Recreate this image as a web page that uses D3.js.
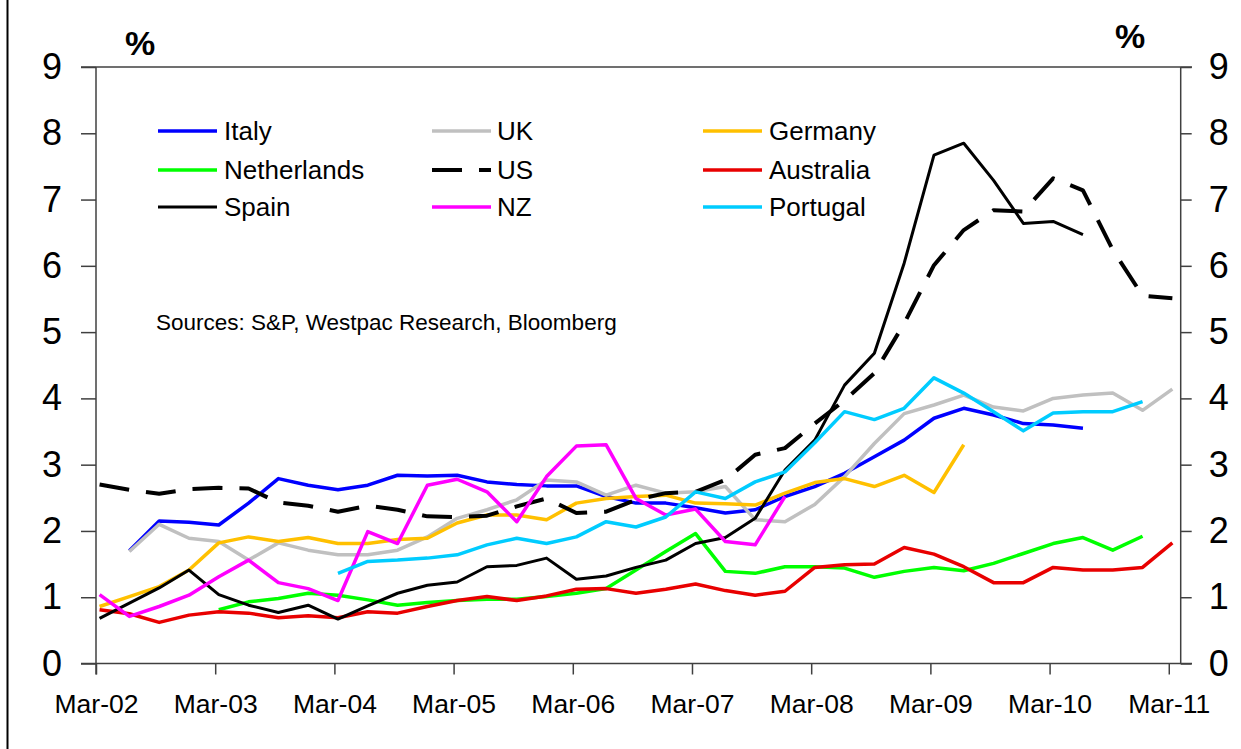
<!DOCTYPE html>
<html>
<head>
<meta charset="utf-8">
<script src="https://cdn.jsdelivr.net/npm/d3@7"></script>
<style>
  html, body { margin: 0; padding: 0; background: #fff; }
  svg { display: block; font-family: "Liberation Sans", Arial, sans-serif; }
</style>
</head>
<body>
<svg id="chart" width="1241" height="749"></svg>
<script>
// ---- Data (quarterly, Mar-02 .. Mar-11; null = no data) ----
const tickLabels = ["Mar-02","Mar-03","Mar-04","Mar-05","Mar-06","Mar-07","Mar-08","Mar-09","Mar-10","Mar-11"];
const yTicks = [0,1,2,3,4,5,6,7,8,9];

const italy = [null,1.70,2.15,2.13,2.09,2.42,2.79,2.69,2.62,2.69,2.84,2.83,2.84,2.74,2.70,2.68,2.68,2.52,2.42,2.42,2.35,2.27,2.32,2.52,2.67,2.87,3.12,3.37,3.70,3.85,3.75,3.62,3.60,3.55,null,null,null];
const uk = [null,1.69,2.10,1.89,1.84,1.56,1.82,1.71,1.64,1.64,1.71,1.91,2.19,2.32,2.47,2.77,2.74,2.54,2.69,2.57,2.59,2.67,2.17,2.14,2.40,2.82,3.32,3.77,3.90,4.05,3.87,3.81,4.00,4.05,4.08,3.82,4.14];
const germany = [0.86,1.01,1.16,1.41,1.82,1.91,1.84,1.90,1.81,1.81,1.87,1.89,2.12,2.24,2.24,2.17,2.42,2.49,2.52,2.54,2.42,2.41,2.39,2.57,2.73,2.79,2.67,2.84,2.58,3.30,null,null,null,null,null,null,null];
const netherlands = [null,null,null,null,0.81,0.93,0.98,1.06,1.03,0.96,0.88,0.92,0.95,0.97,0.97,1.01,1.06,1.13,1.41,1.69,1.96,1.39,1.36,1.46,1.46,1.44,1.30,1.39,1.45,1.40,1.51,1.66,1.81,1.90,1.71,1.92,null];
const us = [2.70,2.62,2.56,2.63,2.65,2.64,2.43,2.38,2.29,2.38,2.32,2.22,2.21,2.23,2.37,2.49,2.27,2.29,2.47,2.57,2.59,2.77,3.15,3.25,3.62,3.97,4.38,5.13,6.01,6.54,6.84,6.82,7.32,7.14,6.24,5.55,5.51];
const australia = [0.81,0.75,0.62,0.73,0.78,0.76,0.69,0.72,0.69,0.78,0.76,0.86,0.95,1.01,0.95,1.02,1.12,1.13,1.06,1.12,1.20,1.10,1.03,1.09,1.45,1.49,1.50,1.75,1.65,1.46,1.22,1.22,1.45,1.41,1.41,1.45,1.82];
const spain = [0.68,0.91,1.14,1.41,1.04,0.88,0.77,0.88,0.67,0.87,1.06,1.18,1.23,1.46,1.48,1.59,1.27,1.32,1.45,1.56,1.81,1.90,2.19,2.92,3.37,4.20,4.68,6.04,7.67,7.85,7.29,6.64,6.67,6.47,null,null,null];
const nz = [1.04,0.71,0.86,1.03,1.31,1.56,1.22,1.13,0.95,1.99,1.81,2.69,2.78,2.59,2.14,2.82,3.28,3.30,2.49,2.24,2.33,1.84,1.79,2.52,null,null,null,null,null,null,null,null,null,null,null,null,null];
const portugal = [null,null,null,null,null,null,null,null,1.36,1.54,1.56,1.59,1.64,1.79,1.89,1.81,1.91,2.14,2.06,2.21,2.59,2.49,2.74,2.89,3.33,3.80,3.68,3.85,4.31,4.08,3.80,3.51,3.78,3.80,3.80,3.95,null];

const seriesNames = ["Italy","UK","Germany","Netherlands","US","Australia","Spain","NZ","Portugal"];
const seriesValues = [italy, uk, germany, netherlands, us, australia, spain, nz, portugal];
const sourceText = "Sources: S&P, Westpac Research, Bloomberg";

// ---- Styles ----
const styles = {
  Italy:       {color: "#0000FF", width: 3.5, dash: null},
  UK:          {color: "#C0C0C0", width: 3.5, dash: null},
  Germany:     {color: "#FFC000", width: 3.5, dash: null},
  Netherlands: {color: "#00FF00", width: 3.5, dash: null},
  US:          {color: "#000000", width: 4,   dash: "30,17"},
  Australia:   {color: "#E80000", width: 3.5, dash: null},
  Spain:       {color: "#000000", width: 3,   dash: null},
  NZ:          {color: "#FF00FF", width: 3.5, dash: null},
  Portugal:    {color: "#00CCFF", width: 3.5, dash: null}
};

const svg = d3.select("#chart");
const axisColor = "#404040";

const x = d3.scaleLinear().domain([0, 36.4]).range([96, 1180.7]);
const y = d3.scaleLinear().domain([0, 9]).range([663.5, 67]);
const pointShift = 0.12;

// ---- Left border line ----
svg.append("line").attr("x1", 7.5).attr("x2", 7.5).attr("y1", 0).attr("y2", 749)
  .attr("stroke", "#000").attr("stroke-width", 2);

// ---- Axes ----
const tickIdx = tickLabels.map((d, i) => i * 4);

// bottom axis
const xAxis = d3.axisBottom(x).tickValues(tickIdx).tickFormat((d, i) => tickLabels[i])
  .tickSizeInner(11).tickSizeOuter(0).tickPadding(20);
const gx = svg.append("g").attr("transform", `translate(0,${y(0)})`).call(xAxis);
gx.select(".domain").remove();
gx.selectAll(".tick line").attr("stroke", axisColor).attr("stroke-width", 1.5);
gx.selectAll(".tick text").attr("font-size", 26.5).attr("fill", "#000")
  .attr("font-family", "Liberation Sans, Arial, sans-serif");

// left axis
const yAxisL = d3.axisLeft(y).tickValues(yTicks).tickSizeInner(15).tickSizeOuter(0).tickPadding(19);
const gyl = svg.append("g").attr("transform", `translate(${x(0)},0)`).call(yAxisL);
gyl.select(".domain").remove();
gyl.selectAll(".tick line").attr("stroke", axisColor).attr("stroke-width", 1.5);
gyl.selectAll(".tick text").attr("font-size", 36).attr("fill", "#000")
  .attr("font-family", "Liberation Sans, Arial, sans-serif");

// right axis
const yAxisR = d3.axisRight(y).tickValues(yTicks).tickSizeInner(11).tickSizeOuter(0).tickPadding(17);
const gyr = svg.append("g").attr("transform", `translate(${x.range()[1]},0)`).call(yAxisR);
gyr.select(".domain").remove();
gyr.selectAll(".tick line").attr("stroke", axisColor).attr("stroke-width", 1.5);
gyr.selectAll(".tick text").attr("font-size", 36).attr("fill", "#000")
  .attr("font-family", "Liberation Sans, Arial, sans-serif");

// frame lines
const frame = svg.append("g").attr("stroke", axisColor).attr("stroke-width", 1.5);
frame.append("line").attr("x1", 81).attr("x2", 1192).attr("y1", y(9)).attr("y2", y(9));
frame.append("line").attr("x1", 81).attr("x2", 1192).attr("y1", y(0)).attr("y2", y(0));
frame.append("line").attr("x1", x(0)).attr("x2", x(0)).attr("y1", y(9)).attr("y2", y(0) + 11);
frame.append("line").attr("x1", x.range()[1]).attr("x2", x.range()[1]).attr("y1", y(9)).attr("y2", y(0));

// % labels
svg.append("text").attr("x", 140).attr("y", 55).attr("text-anchor", "middle")
  .attr("font-size", 34).attr("font-weight", "bold").text("%");
svg.append("text").attr("x", 1130).attr("y", 48).attr("text-anchor", "middle")
  .attr("font-size", 34).attr("font-weight", "bold").text("%");

// ---- Lines ----
const line = d3.line()
  .defined(d => d != null)
  .x((d, i) => x(i + pointShift))
  .y(d => y(d));

const gLines = svg.append("g").attr("fill", "none").attr("stroke-linejoin", "round");
seriesNames.forEach((name, k) => {
  const st = styles[name];
  gLines.append("path")
    .datum(seriesValues[k])
    .attr("d", line)
    .attr("stroke", st.color)
    .attr("stroke-width", st.width)
    .attr("stroke-dasharray", st.dash);
});

// ---- Legend ----
const legendCols = [{lx: 158, tx: 224}, {lx: 432, tx: 497}, {lx: 703, tx: 769}];
const legendRows = [131, 170, 207];
const legendLen = 59;
const gLeg = svg.append("g");
seriesNames.forEach((name, k) => {
  const col = legendCols[k % 3], row = legendRows[Math.floor(k / 3)];
  const st = styles[name];
  gLeg.append("line").attr("x1", col.lx).attr("x2", col.lx + legendLen)
    .attr("y1", row).attr("y2", row)
    .attr("stroke", st.color).attr("stroke-width", st.width)
    .attr("stroke-dasharray", st.dash);
  gLeg.append("text").attr("x", col.tx).attr("y", row).attr("dy", "0.36em")
    .attr("font-size", 26).attr("fill", "#000").text(name);
});

// ---- Sources ----
svg.append("text").attr("x", 156).attr("y", 322).attr("dy", "0.36em")
  .attr("font-size", 22.5).attr("fill", "#000").text(sourceText);
</script>
</body>
</html>
